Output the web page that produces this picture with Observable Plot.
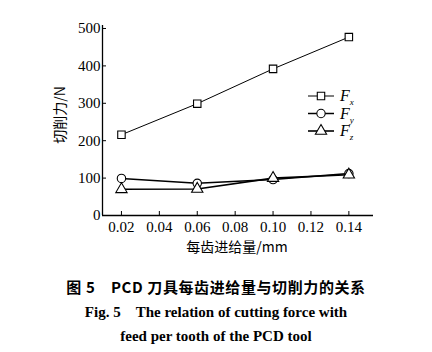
<!DOCTYPE html>
<html><head><meta charset="utf-8">
<script src="https://cdn.jsdelivr.net/npm/d3@7"></script>
<script src="https://cdn.jsdelivr.net/npm/@observablehq/plot@0.6"></script>
<style>
body{margin:0;background:#fff;width:432px;height:352px;overflow:hidden;}
#wrap{position:relative;width:432px;height:262px;}
#legend{position:absolute;left:0;top:0;}
.cap{position:absolute;left:0;width:432px;text-align:center;color:#000;white-space:pre;font-weight:bold;}
#chart svg text{font-family:"Liberation Serif",serif;}
</style></head><body>
<div id="wrap"><div id="chart"></div><svg id="legend" width="432" height="262"></svg></div>
<div class="cap" id="c1" style="top:276px;font-family:'Noto Sans CJK SC';font-size:15px;letter-spacing:0.6px;"></div>
<div class="cap" id="c2" style="top:303px;font-family:'Liberation Serif';font-size:15px;"></div>
<div class="cap" id="c3" style="top:328px;font-family:'Liberation Serif';font-size:15px;"></div>
<script>
const feed = [0.02, 0.06, 0.10, 0.14];
const Fx = [216, 299, 392, 477];
const Fy = [99, 86, 96, 112];
const Fz = [70, 71, 100, 109];
const seriesNames = ["x", "y", "z"];
const seriesSymbols = ["square", "circle", "triangle"];
const seriesWidths = [1, 1.5, 1.6];
const xTicks = [0.02, 0.04, 0.06, 0.08, 0.10, 0.12, 0.14];
const yTicks = [0, 100, 200, 300, 400, 500];
const xLabel = "每齿进给量/mm";
const yLabel = "切削力/N";
const captions = ["图 5　PCD 刀具每齿进给量与切削力的关系", "Fig. 5　The relation of cutting force with", "feed per tooth of the PCD tool"];

const values = [Fx, Fy, Fz];
const rows = [];
values.forEach((arr, i) => arr.forEach((v, j) => rows.push({series: seriesNames[i], feed: feed[j], force: v})));

const marks = [
  Plot.ruleY([0], {stroke: "black", strokeWidth: 1.3}),
  Plot.ruleX([0.01], {stroke: "black", strokeWidth: 1.3}),
  Plot.axisX(xTicks, {tickSize: -4, tickPadding: 10, tickFormat: d => d.toFixed(2), fontSize: 15}),
  Plot.axisY(yTicks, {tickSize: -4, tickPadding: 6, tickFormat: d => String(d), fontSize: 15})
];
seriesNames.forEach((s, i) => {
  const d = rows.filter(r => r.series === s);
  marks.push(Plot.line(d, {x: "feed", y: "force", stroke: "black", strokeWidth: seriesWidths[i]}));
  marks.push(Plot.dot(d, {x: "feed", y: "force", symbol: seriesSymbols[i], r: 4.2, stroke: "black", fill: "white", strokeWidth: 1.1}));
});

const chart = Plot.plot({
  width: 432, height: 262,
  marginLeft: 102, marginRight: 59, marginTop: 25, marginBottom: 47,
  x: {domain: [0.01, 0.153], label: null},
  y: {domain: [0, 508], label: null},
  style: {fontFamily: "'Liberation Serif', serif", fontSize: "15px", color: "black", background: "white"},
  marks
});
document.getElementById("chart").appendChild(chart);
d3.select(chart).selectAll("text").style("font-family", "'Liberation Serif', serif");

const svg = d3.select(chart);
svg.append("text").attr("x", 237).attr("y", 252).attr("text-anchor", "middle")
  .style("font-family", "'Noto Sans CJK SC'").attr("font-size", 14).text(xLabel);
svg.append("text").attr("transform", "translate(65,115) rotate(-90)").attr("text-anchor", "middle")
  .style("font-family", "'Noto Sans CJK SC'").attr("font-size", 14).text(yLabel);

const leg = d3.select("#legend");
const symGen = [d3.symbolSquare, d3.symbolCircle, d3.symbolTriangle];
seriesNames.forEach((s, i) => {
  const y = 96 + i * 17.5;
  const g = leg.append("g");
  g.append("line").attr("x1", 308).attr("x2", 334).attr("y1", y).attr("y2", y).attr("stroke", "black").attr("stroke-width", seriesWidths[i]);
  g.append("path").attr("d", d3.symbol(symGen[i], 55)()).attr("transform", `translate(321,${y})`).attr("fill", "white").attr("stroke", "black").attr("stroke-width", 1.1);
  const t = g.append("text").attr("x", 340).attr("y", y + 5).style("font-family", "'Liberation Serif', serif").attr("font-style", "italic").attr("font-size", 16);
  t.append("tspan").text("F");
  t.append("tspan").attr("font-size", 9).attr("dy", 4).text(s);
});

document.getElementById("c1").textContent = captions[0];
document.getElementById("c2").textContent = captions[1];
document.getElementById("c3").textContent = captions[2];
</script>
</body></html>
